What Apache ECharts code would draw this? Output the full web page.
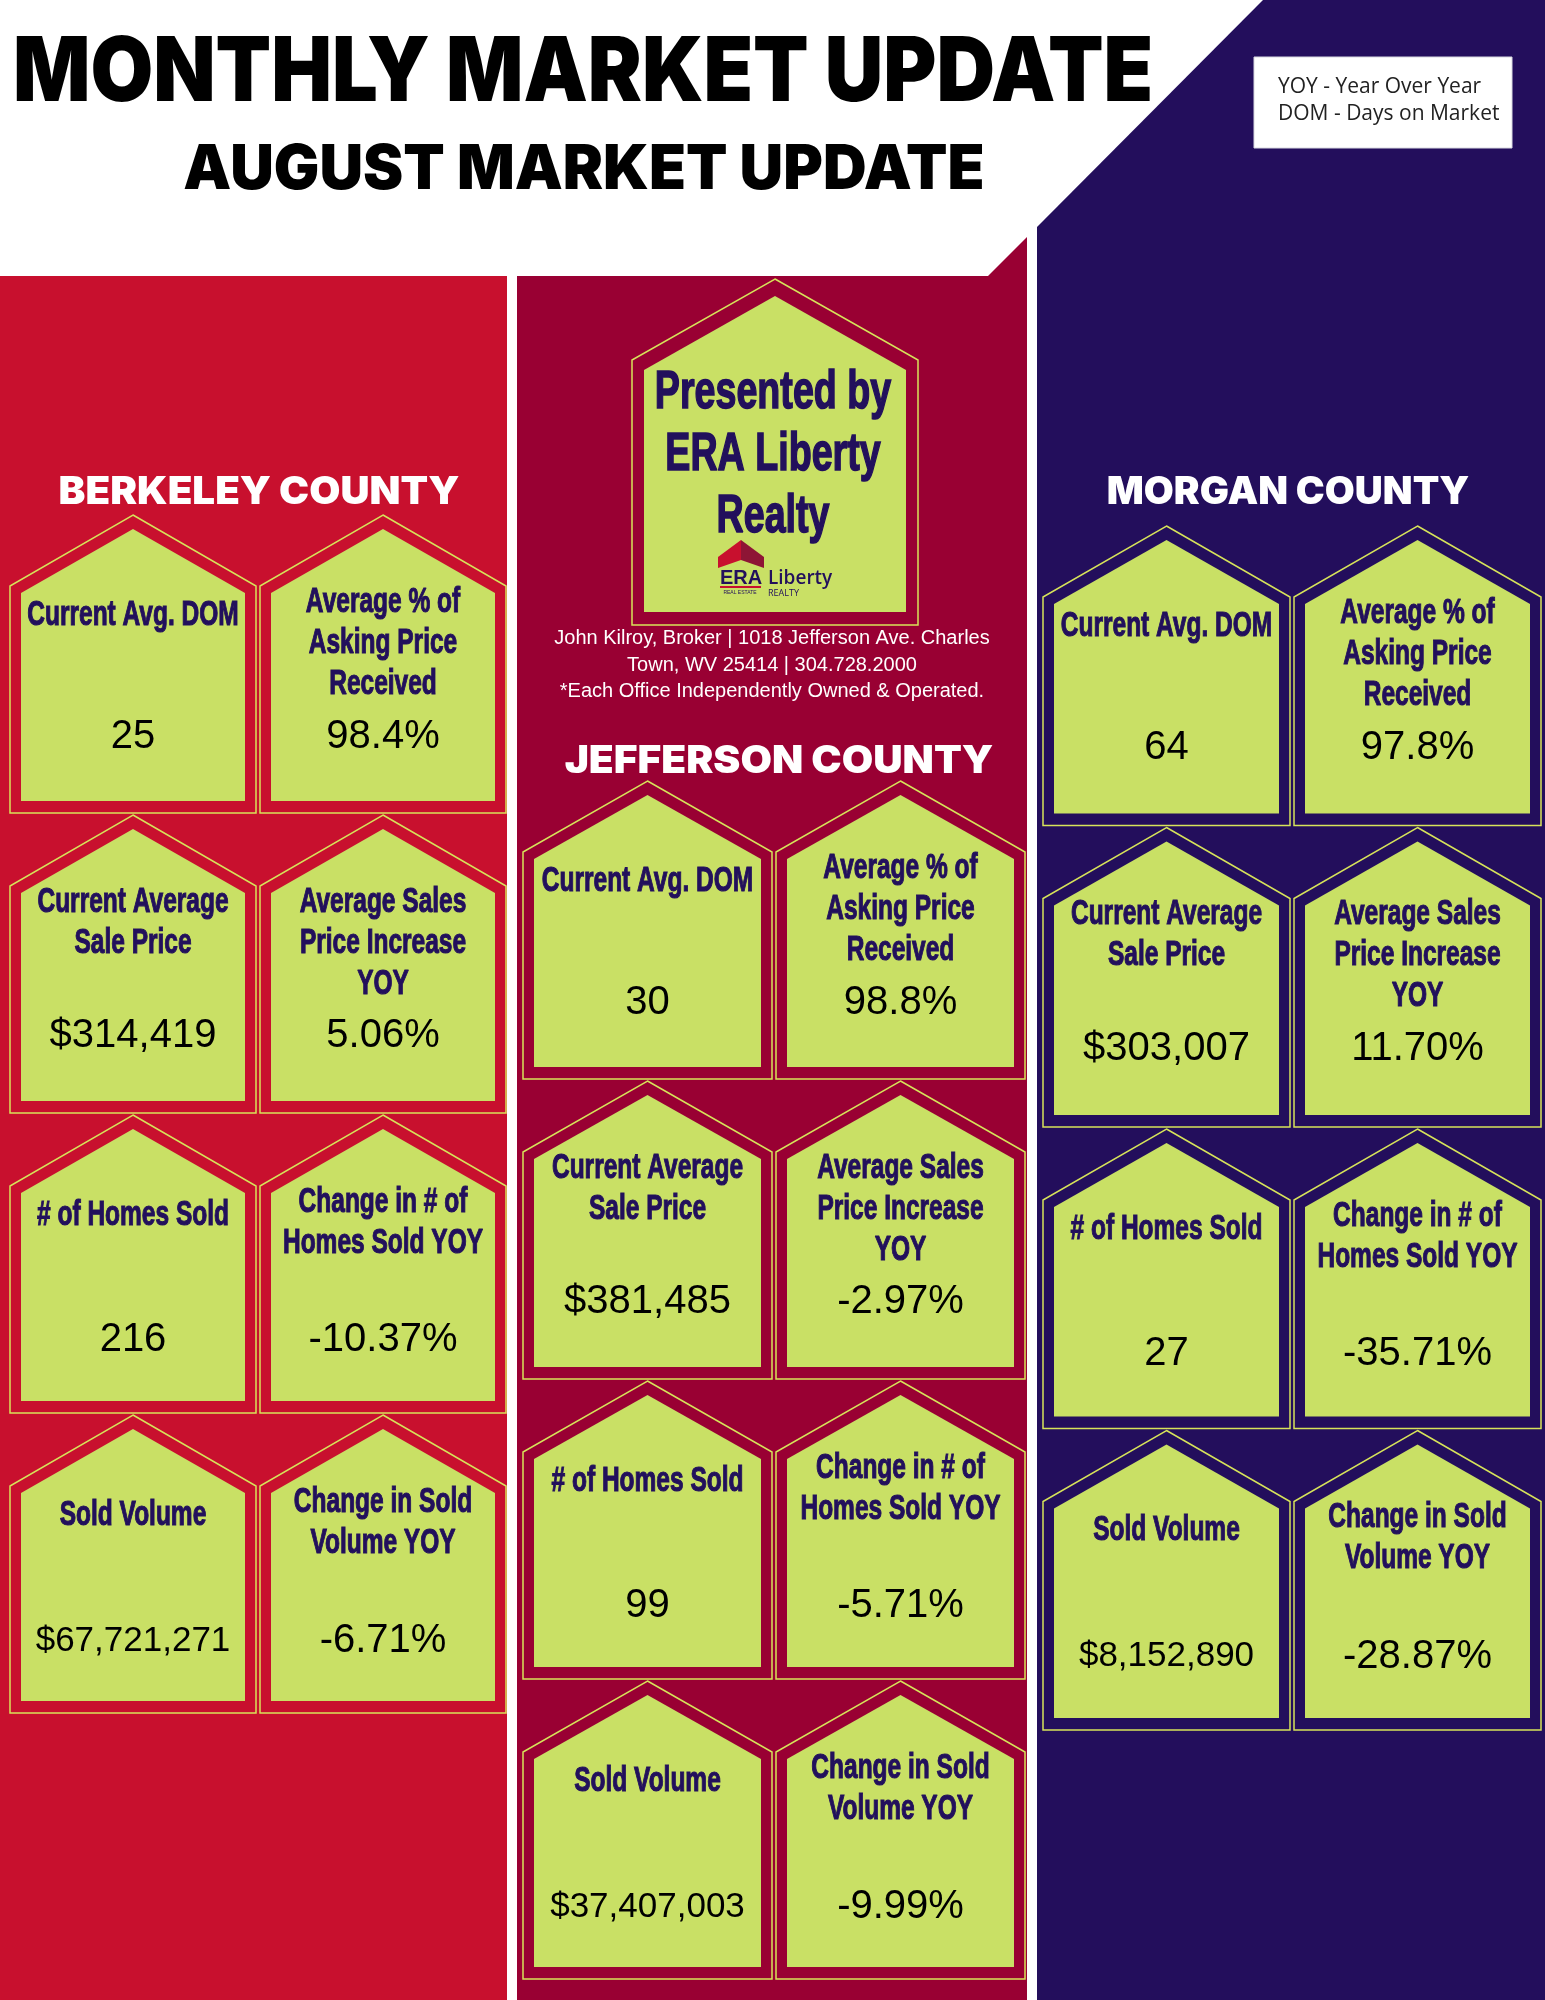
<!DOCTYPE html>
<html><head><meta charset="utf-8">
<script src="https://cdn.jsdelivr.net/npm/echarts@6/dist/echarts.min.js"></script>
<style>html,body{margin:0;padding:0;background:#fff}#c{width:1545px;height:2000px}</style>
</head><body><div id="c"></div>
<script>
// ---------- data ----------
const counties = ['BERKELEY COUNTY', 'JEFFERSON COUNTY', 'MORGAN COUNTY'];
const metricTitles = [
  'Current Avg. DOM',
  'Average % of\nAsking Price\nReceived',
  'Current Average\nSale Price',
  'Average Sales\nPrice Increase\nYOY',
  '# of Homes Sold',
  'Change in # of\nHomes Sold YOY',
  'Sold Volume',
  'Change in Sold\nVolume YOY'
];
const berkeleyValues  = ['25', '98.4%', '$314,419', '5.06%', '216', '-10.37%', '$67,721,271', '-6.71%'];
const jeffersonValues = ['30', '98.8%', '$381,485', '-2.97%', '99', '-5.71%', '$37,407,003', '-9.99%'];
const morganValues    = ['64', '97.8%', '$303,007', '11.70%', '27', '-35.71%', '$8,152,890', '-28.87%'];
const colNames = ['left', 'right'];
const rowNames = ['row1', 'row2', 'row3', 'row4'];
const mainTitle = 'MONTHLY MARKET UPDATE';
const subTitle = 'AUGUST MARKET UPDATE';
const legendLines = ['YOY - Year Over Year', 'DOM - Days on Market'];
const presenterLines = 'Presented by\nERA Liberty\nRealty';
const contactLines = 'John Kilroy, Broker | 1018 Jefferson Ave. Charles\nTown, WV 25414 | 304.728.2000\n*Each Office Independently Owned & Operated.';

// ---------- style ----------
const RED = '#C8102E', MAROON = '#990033', PURPLE = '#230E5C';
const GREEN = '#C9E065', EDGE = '#D7E35A', NAVY = '#22105C';
const panelColors = [RED, MAROON, PURPLE];
const allValues = [berkeleyValues, jeffersonValues, morganValues];
const TITLE_FONT = "'Liberation Sans',Arial,sans-serif";
const BLOCK_FONT = "Inter,'Roboto',sans-serif";
const valueRowShift = [2, 1, 5, 6];

function houseRenderer(ci) {
  return function (params, api) {
    const k = params.dataIndex;
    const c = api.coord([api.value(0), api.value(1)]);
    const size = api.size([1, 1]);
    const w = size[0] - 4, h = size[1] - 2;
    const cx = c[0], top = c[1] - size[1] / 2;
    const hw = w / 2;
    const outer = [[cx, top], [cx + hw, top + 71], [cx + hw, top + h], [cx - hw, top + h], [cx - hw, top + 71]];
    const ih = hw - 11;
    const inner = [[cx, top + 14], [cx + ih, top + 78], [cx + ih, top + h - 12], [cx - ih, top + h - 12], [cx - ih, top + 78]];
    const title = metricTitles[k];
    const n = title.split('\n').length;
    const ty = n === 1 ? top + 100 : top + 87 + (n - 1) * 41 / 2;
    const val = allValues[ci][k];
    const row = api.value(1);
    return {
      type: 'group',
      children: [
        { type: 'polygon', shape: { points: outer }, style: { fill: panelColors[ci], stroke: EDGE, lineWidth: 1.5 } },
        { type: 'polygon', shape: { points: inner }, style: { fill: GREEN } },
        { type: 'text', x: cx, y: ty, scaleX: 0.7,
          style: { text: title, x: 0, y: 0, align: 'center', verticalAlign: 'middle',
            fill: NAVY, stroke: NAVY, lineWidth: 1.1, fontFamily: TITLE_FONT, fontWeight: 'bold', fontSize: 35, lineHeight: 41 } },
        { type: 'text', style: { text: val, x: cx, y: top + 220 + valueRowShift[row], align: 'center', verticalAlign: 'middle',
            fill: '#000', fontFamily: "'Liberation Sans',Arial,sans-serif", fontSize: val.length >= 10 ? 35 : 40 } }
      ]
    };
  };
}

const grids = [
  { left: 8, top: 515, width: 500, height: 1200 },
  { left: 521, top: 781, width: 506, height: 1200 },
  { left: 1041, top: 526, width: 502, height: 1206 }
];

function blockText(str, x, y, size, sx, fill, align) {
  return { type: 'text', x: x, y: y, scaleX: sx,
    style: { text: str, x: 0, y: 0, fill: fill, fontFamily: BLOCK_FONT, fontWeight: 900, fontSize: size, align: align, verticalAlign: 'middle' } };
}

const chart = echarts.init(document.getElementById('c'), null, { renderer: 'canvas' });
const option = {
  backgroundColor: '#ffffff',
  animation: false,
  grid: grids,
  xAxis: grids.map((g, i) => ({ type: 'category', data: colNames, gridIndex: i, show: false })),
  yAxis: grids.map((g, i) => ({ type: 'category', data: rowNames, gridIndex: i, inverse: true, show: false })),
  series: allValues.map((vals, i) => ({
    type: 'custom', xAxisIndex: i, yAxisIndex: i, z: 10,
    data: vals.map((v, k) => [k % 2, Math.floor(k / 2)]),
    renderItem: houseRenderer(i)
  })),
  graphic: [
    // panels
    { type: 'rect', shape: { x: 0, y: 276, width: 507, height: 1724 }, style: { fill: RED } },
    { type: 'polygon', shape: { points: [[517, 276], [988, 276], [1027, 237], [1027, 2000], [517, 2000]] }, style: { fill: MAROON } },
    { type: 'polygon', shape: { points: [[1263, 0], [1545, 0], [1545, 2000], [1037, 2000], [1037, 227]] }, style: { fill: PURPLE } },
    // titles
    blockText(mainTitle, 13, 74, 90, 0.9, '#000', 'left'),
    blockText(subTitle, 584, 170, 62, 0.975, '#000', 'center'),
    // legend box
    { type: 'rect', shape: { x: 1254, y: 57, width: 258, height: 91 }, style: { fill: '#fff', stroke: '#d8d8e0', lineWidth: 1 } },
    { type: 'text', x: 1278, y: 87, style: { text: legendLines[0], fill: '#222', fontFamily: "'Open Sans',sans-serif", fontSize: 21, align: 'left', verticalAlign: 'middle' } },
    { type: 'text', x: 1278, y: 114, style: { text: legendLines[1], fill: '#222', fontFamily: "'Open Sans',sans-serif", fontSize: 21, align: 'left', verticalAlign: 'middle' } },
    // county names
    blockText(counties[0], 259, 493, 38, 1.06, '#fff', 'center'),
    blockText(counties[1], 779, 762, 38, 1.07, '#fff', 'center'),
    blockText(counties[2], 1288, 493, 38, 1.02, '#fff', 'center'),
    // presenter house
    { type: 'polygon', shape: { points: [[775, 279], [918, 360], [918, 625], [632, 625], [632, 360]] }, style: { fill: MAROON, stroke: EDGE, lineWidth: 1.5 } },
    { type: 'polygon', shape: { points: [[775, 296], [906, 370], [906, 612], [644, 612], [644, 370]] }, style: { fill: GREEN } },
    { type: 'text', x: 773, y: 455, scaleX: 0.71,
      style: { text: presenterLines, x: 0, y: 0, fill: NAVY, stroke: NAVY, lineWidth: 1.6, fontFamily: TITLE_FONT, fontWeight: 'bold', fontSize: 53, lineHeight: 62, align: 'center', verticalAlign: 'middle' } },
    // logo
    { type: 'polygon', shape: { points: [[718, 557], [741, 540], [741, 560], [718, 568]] }, style: { fill: '#C8102E' } },
    { type: 'polygon', shape: { points: [[741, 540], [764, 557], [764, 568], [741, 560]] }, style: { fill: '#8E1535' } },
    { type: 'text', x: 720, y: 578, style: { text: 'ERA', fill: NAVY, fontFamily: "'Liberation Sans',Arial,sans-serif", fontWeight: 'bold', fontSize: 20, align: 'left', verticalAlign: 'middle' } },
    { type: 'rect', shape: { x: 720, y: 586, width: 41, height: 2 }, style: { fill: '#C8102E' } },
    { type: 'text', x: 740, y: 593, style: { text: 'REAL ESTATE', fill: NAVY, fontFamily: "'Liberation Sans',Arial,sans-serif", fontSize: 5, align: 'center', verticalAlign: 'middle' } },
    { type: 'text', x: 768, y: 579, style: { text: 'Liberty', fill: NAVY, fontFamily: "'Open Sans',sans-serif", fontWeight: 600, fontSize: 19, align: 'left', verticalAlign: 'middle' } },
    { type: 'text', x: 768, y: 593, style: { text: 'REALTY', fill: NAVY, fontFamily: "'Open Sans',sans-serif", fontSize: 9, align: 'left', verticalAlign: 'middle' } },
    // contact
    { type: 'text', x: 772, y: 665, style: { text: contactLines, fill: '#fff', fontFamily: "'Liberation Sans',Arial,sans-serif", fontSize: 20, lineHeight: 26.5, align: 'center', verticalAlign: 'middle' } }
  ]
};
chart.setOption(option);
</script>
</body></html>
